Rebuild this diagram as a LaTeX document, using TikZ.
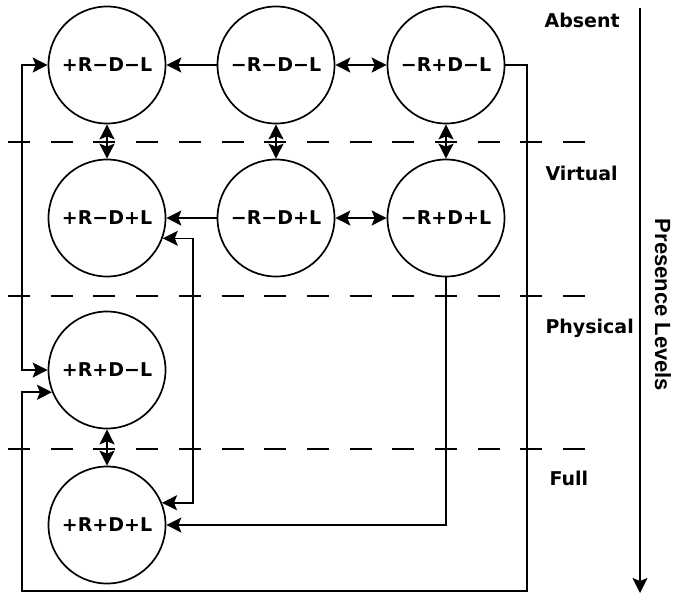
\documentclass[tikz,border=0pt]{standalone}
\usepackage{fontspec}
\setmainfont{DejaVu Sans}
\newfontfamily\axisfont{Liberation Sans}
\usetikzlibrary{arrows.meta}

\tikzset{
	levelstate/.style={draw, circle, line width=1.7pt, minimum size=117pt, inner sep=0pt, font=\fontsize{19}{22}\selectfont\bfseries},
	levelname/.style={anchor=west, font=\fontsize{19}{22}\selectfont\bfseries},
	border/.style={line width=1.7pt, dash pattern=on 22pt off 20.7pt},
	link/.style={line width=1.6pt, -{Stealth[length=15pt,width=15pt,inset=3pt]}},
	dlink/.style={line width=1.6pt, {Stealth[length=15pt,width=15pt,inset=3pt]}-{Stealth[length=15pt,width=15pt,inset=3pt]}},
}

\begin{document}
\begin{tikzpicture}[x=1pt,y=-1pt]
	\useasboundingbox (0,0) rectangle (676,595);

	% Zustaende
	\node[levelstate] (pmm) at (107,65) {+R−D−L};
	\node[levelstate] (mmm) at (276,65) {−R−D−L};
	\node[levelstate] (mpm) at (446,65) {−R+D−L};
	\node[levelstate] (pmp) at (107,218) {+R−D+L};
	\node[levelstate] (mmp) at (276,218) {−R−D+L};
	\node[levelstate] (mpp) at (446,218) {−R+D+L};
	\node[levelstate] (ppm) at (107,370) {+R+D−L};
	\node[levelstate] (ppp) at (107,525) {+R+D+L};

	% Grenzen
	\draw[border] (8,142) -- (588,142);
	\draw[border] (8,296) -- (588,296);
	\draw[border] (8,449) -- (588,449);

	% Stufen
	\node[levelname] (absent) at (541,20) {Absent};
	\node[levelname] (virtual) at (542,173) {Virtual};
	\node[levelname] (physical) at (542,328) {Physical};
	\node[levelname] (full) at (546,478) {Full};

	% Achse
	\coordinate (axtop) at (640,8);
	\coordinate (axbot) at (640,593);
	\draw[link] (axtop) -- (axbot);
	\node[rotate=-90, font=\axisfont\fontsize{22}{26}\selectfont\bfseries] (axis) at (663,305) {Presence Levels};

	% Uebergaenge
	\draw[link] (mmm) -- (pmm);
	\draw[dlink] (mmm) -- (mpm);
	\draw[link] (mmp) -- (pmp);
	\draw[dlink] (mmp) -- (mpp);
	\draw[dlink] (pmm) -- (pmp);
	\draw[dlink] (mmm) -- (mmp);
	\draw[dlink] (mpm) -- (mpp);
	\draw[dlink] (ppm) -- (ppp);

	% Umwege
	\coordinate (lbus) at (22,0);
	\coordinate (rbus) at (193,0);
	\coordinate (ebus) at (527,591);
	\draw[dlink] (pmm.west) -- (pmm.west -| lbus) -- (ppm.west -| lbus) -- (ppm.west);
	\draw[link] (mpm.east) -- (mpm.east -| ebus) -- (ebus) -- (ebus -| lbus) -- (ppm.202 -| lbus) -- (ppm.202);
	\draw[dlink] (pmp.-20) -- (pmp.-20 -| rbus) -- (ppp.22 -| rbus) -- (ppp.22);
	\draw[link] (mpp.south) |- (ppp.east);
\end{tikzpicture}
\end{document}
